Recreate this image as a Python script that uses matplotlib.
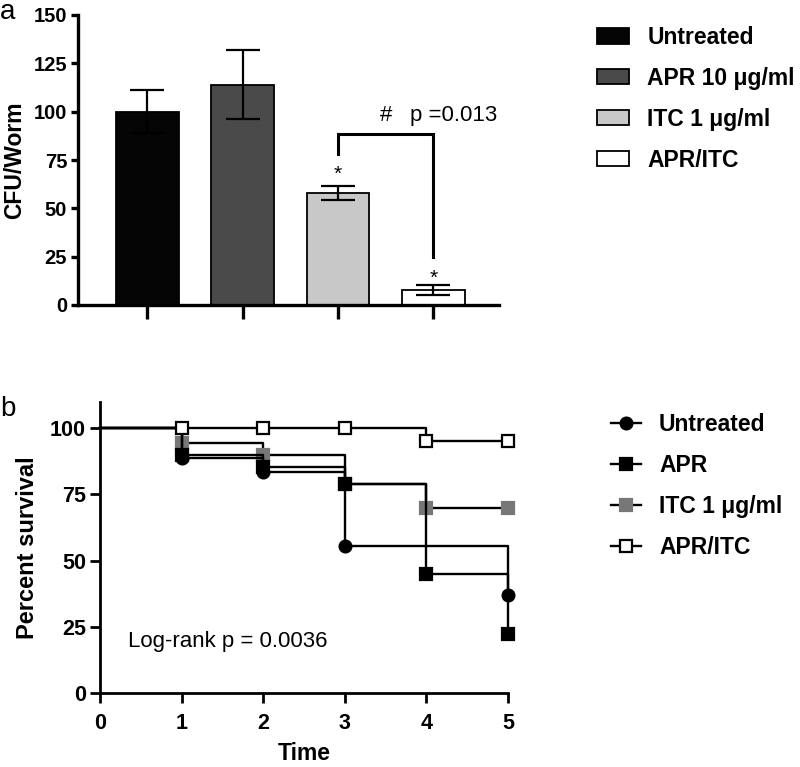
import matplotlib
matplotlib.use("Agg")
import matplotlib.pyplot as plt
from matplotlib.patches import Patch
from matplotlib.lines import Line2D

plt.rcParams['font.family'] = ['Liberation Sans', 'DejaVu Sans']

# ---- Panel a data ----
groups = ["Untreated", "APR 10 μg/ml", "ITC 1 μg/ml", "APR/ITC"]
cfu_mean = [100, 114, 58, 8]
cfu_sem = [11, 18, 3.7, 2.6]
bar_colors = ["#050505", "#4a4a4a", "#c8c8c8", "#ffffff"]
y_ticks_a = [0, 25, 50, 75, 100, 125, 150]

# ---- Panel b data ----
surv_labels = ["Untreated", "APR", "ITC 1 μg/ml", "APR/ITC"]
times = [0, 1, 2, 3, 4, 5]
surv_untreated = [100, 88.9, 83.3, 55.5, 55.5, 37]
surv_apr = [100, 90, 85.5, 79, 45, 22.5]
surv_itc = [100, 94.4, 90, 79, 70, 70]
surv_combo = [100, 100, 100, 100, 95, 95]
marker_times_untreated = [1, 2, 3, 5]
marker_times_other = [1, 2, 3, 4, 5]
y_ticks_b = [0, 25, 50, 75, 100]
x_ticks_b = [0, 1, 2, 3, 4, 5]

W, H = 800, 767
fig = plt.figure(figsize=(W / 100, H / 100), dpi=100)

def fx(px):
    return px / W

def fy(py):
    return 1 - py / H

# ---------------- Panel a ----------------
axa = fig.add_axes([fx(78.3), fy(305), fx(499) - fx(78.3), fy(15) - fy(305)])
xs = list(range(len(groups)))
axa.bar(xs, cfu_mean, width=0.66, color=bar_colors, edgecolor="black",
        linewidth=1.3, zorder=2)
axa.errorbar(xs, cfu_mean, yerr=cfu_sem, fmt="none", ecolor="black",
             elinewidth=1.6, capsize=12, capthick=1.6, zorder=3)
axa.set_xlim(-0.726, 3.69)
axa.set_ylim(0, 150)
axa.set_yticks(y_ticks_a)
axa.set_xticks(xs)
axa.set_xticklabels([])
for s in ["top", "right"]:
    axa.spines[s].set_visible(False)
for s in ["left", "bottom"]:
    axa.spines[s].set_linewidth(2.4)
axa.tick_params(axis="y", direction="out", length=5, width=2.4, labelsize=14.5, pad=3)
axa.tick_params(axis="x", direction="out", length=10, width=2.4)
for lbl in axa.get_yticklabels():
    lbl.set_fontweight("bold")
axa.set_ylabel("CFU/Worm", fontsize=16.5, fontweight="bold", labelpad=5)

# significance annotations
axa.plot([2, 2, 3, 3], [78, 88.3, 88.3, 24.7], color="black", lw=2.2,
         solid_joinstyle="miter", zorder=4)
axa.text(2.5, 95, "#", ha="center", va="baseline", fontsize=16)
axa.text(2.76, 95, "p =0.013", ha="left", va="baseline", fontsize=16)
axa.text(2, 65, "*", ha="center", va="baseline", fontsize=15)
axa.text(3, 11, "*", ha="center", va="baseline", fontsize=15)

leg_a = [Patch(facecolor=c, edgecolor="black", linewidth=1.3) for c in bar_colors]
fig.legend(leg_a, groups, loc="upper left", bbox_to_anchor=(fx(597), fy(26)),
           frameon=False, prop={"weight": "bold", "size": 16.5},
           handlelength=1.39, handleheight=0.65, handletextpad=0.8,
           labelspacing=0.78, borderpad=0, borderaxespad=0)

fig.text(fx(0), fy(19), "a", fontsize=20, ha="left", va="baseline")

# ---------------- Panel b ----------------
axb = fig.add_axes([fx(100), fy(693.3), fx(508) - fx(100), fy(401.7) - fy(693.3)])
series = [
    (surv_untreated, marker_times_untreated, dict(marker="o", mfc="black", mec="black")),
    (surv_apr, marker_times_other, dict(marker="s", mfc="black", mec="black")),
    (surv_itc, marker_times_other, dict(marker="s", mfc="#777777", mec="#777777")),
    (surv_combo, marker_times_other, dict(marker="s", mfc="white", mec="black")),
]
z_order = [3, 4, 2, 5]
handles_b = []
for (vals, mt, st), z in zip(series, z_order):
    axb.step(times, vals, where="post", color="black", lw=1.7, zorder=z, clip_on=False)
    mv = [vals[times.index(t)] for t in mt]
    axb.plot(mt, mv, linestyle="none", marker=st["marker"], markersize=8.5,
             markerfacecolor=st["mfc"], markeredgecolor=st["mec"],
             markeredgewidth=1.6, zorder=z + 0.5, clip_on=False)
    handles_b.append(Line2D([0], [0], color="black", lw=1.7, marker=st["marker"],
                            markersize=8.5, markerfacecolor=st["mfc"],
                            markeredgecolor=st["mec"], markeredgewidth=1.6))
axb.set_xlim(0, 5)
axb.set_ylim(0, 110)
axb.set_xticks(x_ticks_b)
axb.set_yticks(y_ticks_b)
for s in ["top", "right"]:
    axb.spines[s].set_visible(False)
for s in ["left", "bottom"]:
    axb.spines[s].set_linewidth(2.0)
axb.tick_params(axis="both", direction="out", length=7, width=2.0, labelsize=15.5)
axb.tick_params(axis="y", pad=3)
axb.tick_params(axis="x", pad=7)
for lbl in axb.get_yticklabels() + axb.get_xticklabels():
    lbl.set_fontweight("bold")
axb.set_ylabel("Percent survival", fontsize=17, fontweight="bold", labelpad=8)
axb.set_xlabel("Time", fontsize=16.5, fontweight="bold", labelpad=6)
axb.text(0.34, 17.6, "Log-rank p = 0.0036", fontsize=16, ha="left", va="baseline")

fig.legend(handles_b, surv_labels, loc="upper left", bbox_to_anchor=(fx(611), fy(413)),
           frameon=False, prop={"weight": "bold", "size": 16.5},
           handlelength=1.3, handletextpad=0.8, labelspacing=0.78,
           borderpad=0, borderaxespad=0, numpoints=1)

fig.text(fx(0), fy(416), "b", fontsize=20, ha="left", va="baseline")

fig.savefig("out.png", dpi=100, facecolor="white")
